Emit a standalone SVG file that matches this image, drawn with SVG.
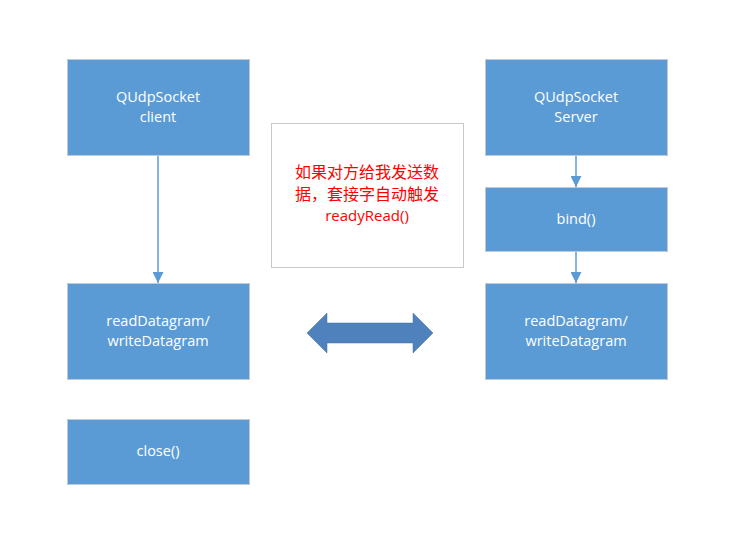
<svg xmlns="http://www.w3.org/2000/svg" width="738" height="542" viewBox="0 0 738 542">
<style>
.box{fill:#5B9BD5;stroke:#BFC9D4;stroke-width:1}
.t{fill:#FFFFFF;font-family:"Open Sans","Liberation Sans",sans-serif;font-size:14.5px;text-anchor:middle}
.note{fill:#FFFFFF;stroke:#C8C8C8;stroke-width:1}
.nt{fill:#FF0000;font-family:"Noto Sans CJK SC","Open Sans",sans-serif;font-size:16px;text-anchor:middle}
.nr{fill:#FF0000;font-family:"Open Sans","Liberation Sans",sans-serif;font-size:15px;text-anchor:middle}
.c{stroke:#5B9BD5;stroke-width:1.5;fill:none}
</style>
<defs>
<marker id="ah" viewBox="0 0 10 10" refX="10" refY="5" markerWidth="11" markerHeight="11" markerUnits="userSpaceOnUse" orient="auto">
<path d="M0,0 L10,5 L0,10 Z" fill="#5B9BD5"/>
</marker>
</defs>
<rect width="738" height="542" fill="#FFFFFF"/>
<g id="connectors">
<line class="c" x1="158" y1="155" x2="158" y2="283" marker-end="url(#ah)"/>
<line class="c" x1="576" y1="155" x2="576" y2="187" marker-end="url(#ah)"/>
<line class="c" x1="576" y1="251" x2="576" y2="283" marker-end="url(#ah)"/>
</g>
<g id="client">
<rect class="box" x="67.5" y="59.5" width="182" height="96"/>
<text class="t" x="158" y="102">QUdpSocket</text>
<text class="t" x="158" y="122">client</text>
</g>
<g id="client-rw">
<rect class="box" x="67.5" y="283.5" width="182" height="96"/>
<text class="t" x="158" y="326">readDatagram/</text>
<text class="t" x="158" y="346">writeDatagram</text>
</g>
<g id="close">
<rect class="box" x="67.5" y="419.5" width="182" height="65"/>
<text class="t" x="158" y="456">close()</text>
</g>
<g id="server">
<rect class="box" x="485.5" y="59.5" width="182" height="96"/>
<text class="t" x="576" y="102">QUdpSocket</text>
<text class="t" x="576" y="122">Server</text>
</g>
<g id="bind">
<rect class="box" x="485.5" y="187.5" width="182" height="64"/>
<text class="t" x="576" y="224">bind()</text>
</g>
<g id="server-rw">
<rect class="box" x="485.5" y="283.5" width="182" height="96"/>
<text class="t" x="576" y="326">readDatagram/</text>
<text class="t" x="576" y="346">writeDatagram</text>
</g>
<g id="note">
<rect class="note" x="271.5" y="123.5" width="192" height="144"/>
<text class="nt" x="367" y="178">如果对方给我发送数</text>
<text class="nt" x="367" y="200">据，套接字自动触发</text>
<text class="nr" x="367" y="221">readyRead()</text>
</g>
<g id="double-arrow">
<path d="M307,333 L327,313 L327,323 L413,323 L413,313 L433,333 L413,353 L413,343 L327,343 L327,353 Z" fill="#4F81BD" stroke="#41719C" stroke-width="0.5"/>
</g>
</svg>
